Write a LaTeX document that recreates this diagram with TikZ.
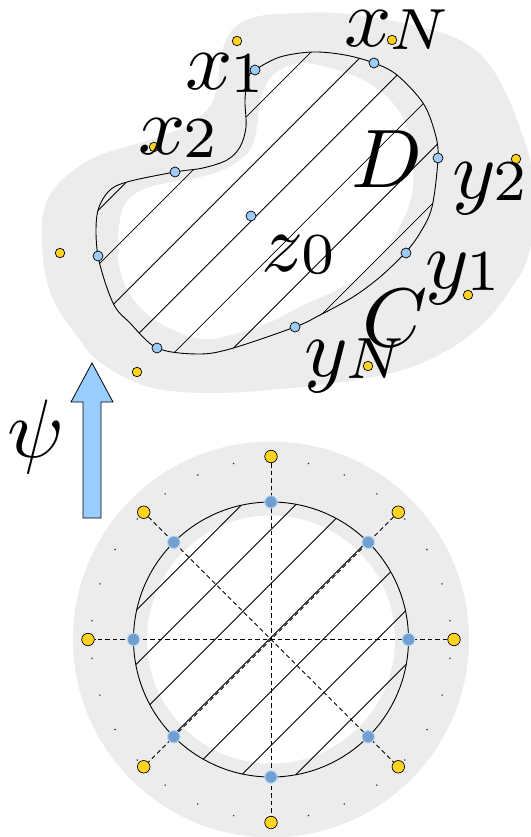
\documentclass[tikz,border=0pt]{standalone}
\usepackage{graphicx}
\usetikzlibrary{calc}
\definecolor{gfill}{HTML}{ECECEC}
\definecolor{ybody}{HTML}{FFD320}
\definecolor{lblue}{HTML}{9DCBF5}
\definecolor{mblue}{HTML}{729FCF}
\definecolor{mblueedge}{HTML}{B4D7F8}
\definecolor{arrowblue}{HTML}{99CCFF}
\newcommand{\lblbox}[1]{\scalebox{8.3}{$#1$}}
\newcommand{\lblsub}[2]{\scalebox{8.3}{$#1\mkern-0.5mu\lower0.25pt\hbox{$\scriptstyle #2$}$}}
\begin{document}
\begin{tikzpicture}[x=1pt,y=-1pt,
  ydot/.style={circle,draw=black,line width=0.7pt,fill=ybody,inner sep=0pt,minimum size=9.5pt},
  ydotb/.style={ydot,minimum size=12.5pt},
  bdot/.style={circle,draw=black,line width=0.7pt,fill=lblue,inner sep=0pt,minimum size=10pt},
  bdotb/.style={circle,draw=mblueedge,line width=1pt,fill=mblue,inner sep=0pt,minimum size=12.5pt},
  tdot/.style={circle,fill=black!75,inner sep=0pt,minimum size=1.8pt},
  hatch/.style={line width=0.8pt},
  outl/.style={line width=0.9pt},
  dline/.style={dash pattern=on 4.5pt off 3pt, line width=0.8pt},
  lbl/.style={inner sep=0pt,anchor=base west},
  bigarrow/.style={draw=black,line width=0.8pt,fill=arrowblue}
]
\useasboundingbox (0,0) rectangle (530,837);

% ---------------- top figure ----------------
\def\outline{plot[smooth cycle, tension=0.55] coordinates {(255,70) (280,57) (313,52) (345,55) (374,63) (397,75) (423,103) (435,133) (438,158) (432,207) (420,233) (405,253) (380,277) (353,297) (320,315) (295,327) (230,349) (197,354) (157,348) (130,323) (113,303) (98,256) (97,215) (108,192) (127,182) (175,172) (203,168) (227,160) (240,147) (246,127) (245,100) (248,78)}}

\fill[gfill] plot[smooth cycle, tension=0.6] coordinates {(280,14) (337,13) (403,23) (453,37) (483,57) (503,87) (517,120) (530,160) (536,210) (527,260) (510,290) (487,320) (453,347) (403,370) (337,383) (270,390) (213,393) (163,390) (130,380) (97,360) (80,340) (57,307) (45,273) (42,223) (50,195) (70,173) (100,155) (150,140) (183,127) (207,110) (217,87) (221,55) (232,30) (252,18)};

\fill[white] plot[smooth cycle, tension=0.6] coordinates {(300,63) (330,68) (363,80) (390,100) (407,127) (413,160) (412,193) (403,220) (387,247) (363,273) (337,290) (303,305) (270,322) (223,337) (197,338) (163,325) (140,307) (125,285) (118,257) (120,220) (128,200) (150,187) (200,177) (223,170) (240,160) (252,147) (257,127) (260,103) (267,83) (280,70)};

\begin{scope}
  \clip \outline;
  \foreach \k in {0,...,6}{
    \pgfmathsetmacro{\cc}{308.5+54.6*\k}
    \draw[hatch] (0,\cc) -- (700,{\cc-700});
  }
\end{scope}
\draw[outl] \outline;

\node[ydot] (ya) at (237,41) {};
\node[ydot] (yb) at (392,40) {};
\node[ydot] (yc) at (516,159) {};
\node[ydot] (yd) at (468,295) {};
\node[ydot] (ye) at (368,366) {};
\node[ydot] (yf) at (137,372) {};
\node[ydot] (yg) at (60,253) {};
\node[ydot] (yh) at (154,147) {};

\node[bdot] (px1) at (255,70) {};
\node[bdot] (pxN) at (374,63) {};
\node[bdot] (py2) at (438,158) {};
\node[bdot] (py1) at (406,253) {};
\node[bdot] (pyN) at (295,327) {};
\node[bdot] (pbl) at (157,348) {};
\node[bdot] (plf) at (98,256) {};
\node[bdot] (px2) at (175,172) {};
\node[bdot] (pz0) at (251,216) {};

\node[lbl] (lx1) at (185,90) {\lblsub{x}{1}};
\node[lbl] (lx2) at (138,155) {\lblsub{x}{2}};
\node[lbl] (lxN) at (344,47) {\lblsub{x}{N}};
\node[lbl] (lD) at (351,187) {\lblbox{D}};
\node[lbl] (ly2) at (452,198) {\lblsub{y}{2}};
\node[lbl] (lz0) at (261,271) {\lblsub{z}{0}};
\node[lbl] (ly1) at (425,288) {\lblsub{y}{1}};
\node[lbl] (lC) at (362,346) {\lblbox{C}};
\node[lbl] (lyN) at (304,376) {\lblsub{y}{N}};

% ---------------- arrow ----------------
\node[lbl] (lpsi) at (7,457) {\lblbox{\psi}};
\draw[bigarrow] (83,518) -- (101,518) -- (101,402) -- (113,402) -- (92,363) -- (71,402) -- (83,402) -- cycle;

% ---------------- bottom figure ----------------
\coordinate (O) at (271,639.5);
\fill[gfill] (O) circle (198pt);
\fill[white] (O) circle (124pt);
\begin{scope}
  \clip (O) circle (137.5pt);
  \foreach \k in {-3,...,3}{
    \pgfmathsetmacro{\cc}{908.5+54*\k}
    \draw[hatch] (0,\cc) -- (700,{\cc-700});
  }
\end{scope}
\draw[outl] (O) circle (137.5pt);

\foreach \a in {0,12,...,348}{
  \node[tdot] (t\a) at ($(O)+({6+\a}:180pt)$) {};
}

\node[ydotb] (Y0) at ($(O)+(0:183pt)$) {};
\node[ydotb] (Y45) at ($(O)+(45:180pt)$) {};
\node[ydotb] (Y90) at ($(O)+(90:183pt)$) {};
\node[ydotb] (Y135) at ($(O)+(135:180pt)$) {};
\node[ydotb] (Y180) at ($(O)+(180:183pt)$) {};
\node[ydotb] (Y225) at ($(O)+(225:180pt)$) {};
\node[ydotb] (Y270) at ($(O)+(270:183pt)$) {};
\node[ydotb] (Y315) at ($(O)+(315:180pt)$) {};

\draw[dline] (Y0) -- (Y180);
\draw[dline] (Y90) -- (Y270);
\draw[dline] (Y45) -- (Y225);
\draw[dline] (Y135) -- (Y315);

\foreach \a in {0,45,...,315}{
  \node[bdotb] (B\a) at ($(O)+(\a:137.5pt)$) {};
}
\end{tikzpicture}
\end{document}
